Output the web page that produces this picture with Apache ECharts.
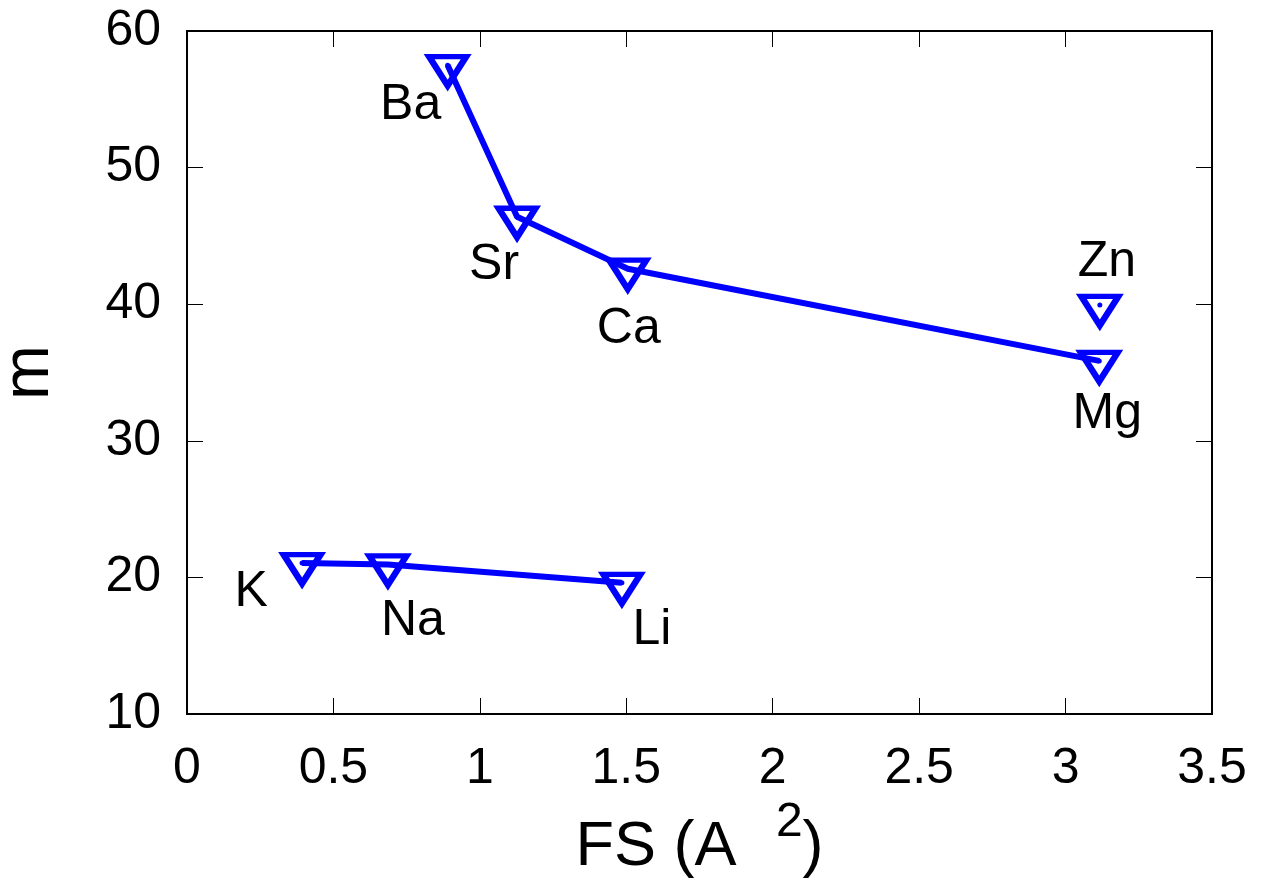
<!DOCTYPE html>
<html>
<head>
<meta charset="utf-8">
<script src="https://cdn.jsdelivr.net/npm/echarts@6/dist/echarts.min.js"></script>
<style>html,body{margin:0;padding:0;background:#fff}#c{width:1271px;height:895px}</style>
</head>
<body>
<div id="c"></div>
<script>
// Data
const names = ['Ba', 'Sr', 'Ca', 'Mg', 'Zn', 'K', 'Na', 'Li'];
const fs    = [0.89, 1.127, 1.505, 3.115, 3.117, 0.393, 0.686, 1.485];
const m     = [57.5, 46.4, 42.6, 35.85, 39.95, 21.05, 20.95, 19.6];
const group2Line = ['Ba', 'Sr', 'Ca', 'Mg'];
const group1Line = ['K', 'Na', 'Li'];
const xTicks = [0, 0.5, 1, 1.5, 2, 2.5, 3, 3.5];
const yTicks = [10, 20, 30, 40, 50, 60];

const labelOffsets = {
  Ba: [-37, 34], Sr: [-23, 42], Ca: [1, 55], Zn: [7, -49],
  Mg: [8, 47], K: [-51, 23], Na: [25, 51], Li: [30, 41]
};

const pt = n => { const i = names.indexOf(n); return [fs[i], m[i]]; };
const BLUE = '#0000ff';
const FONT = 'Liberation Sans';

const chart = echarts.init(document.getElementById('c'), null, {renderer: 'canvas'});

function axisBase(extra) {
  return Object.assign({
    type: 'value',
    axisLine: {show: true, onZero: false, lineStyle: {color: '#000', width: 2}},
    axisTick: {show: true, inside: true, length: 16, lineStyle: {color: '#000', width: 1}},
    splitLine: {show: false}
  }, extra);
}

chart.setOption({
  animation: false,
  backgroundColor: '#fff',
  grid: {left: 187, top: 31, right: 59, bottom: 181, show: true, borderColor: '#000', borderWidth: 2,
         containLabel: false, outerBoundsMode: 'none'},
  xAxis: [
    axisBase({
      position: 'bottom',
      min: xTicks[0], max: xTicks[xTicks.length - 1], interval: 0.5,
      axisLabel: {fontFamily: FONT, fontSize: 50, color: '#000', margin: 30},
      name: '{t|FS (A }{s|2}{t|)}',
      nameLocation: 'middle', nameGap: 84,
      nameTextStyle: {
        rich: {
          t: {fontFamily: FONT, fontSize: 63, color: '#000'},
          s: {fontFamily: FONT, fontSize: 48, color: '#000', padding: [0, 0, 50, 22]}
        }
      }
    }),
    axisBase({
      position: 'top', min: xTicks[0], max: xTicks[xTicks.length - 1], interval: 0.5,
      axisLabel: {show: false}
    })
  ],
  yAxis: [
    axisBase({
      position: 'left',
      min: yTicks[0], max: yTicks[yTicks.length - 1], interval: 10,
      axisLabel: {fontFamily: FONT, fontSize: 50, color: '#000', margin: 26},
      name: 'm', nameLocation: 'middle', nameGap: 124,
      nameTextStyle: {fontFamily: FONT, fontSize: 66, color: '#000'}
    }),
    axisBase({
      position: 'right', min: yTicks[0], max: yTicks[yTicks.length - 1], interval: 10,
      axisLabel: {show: false}
    })
  ],
  series: [
    {
      type: 'line', data: group2Line.map(pt), symbol: 'none',
      lineStyle: {color: BLUE, width: 6}, z: 2
    },
    {
      type: 'line', data: group1Line.map(pt), symbol: 'none',
      lineStyle: {color: BLUE, width: 6}, z: 2
    },
    {
      type: 'scatter', z: 3,
      symbol: 'path://M0,0 L20,0 L10,17 Z',
      symbolSize: [37, 29], symbolOffset: [0, 6],
      itemStyle: {color: 'rgba(0,0,0,0)', borderColor: BLUE, borderWidth: 6, opacity: 1},
      label: {color: '#000', opacity: 1},
      data: names.map((n, i) => ({
        value: [fs[i], m[i]],
        label: {
          show: true, formatter: n, position: 'inside',
          offset: labelOffsets[n],
          fontFamily: FONT, fontSize: 50, color: '#000', opacity: 1
        }
      }))
    },
    {
      type: 'scatter', z: 4, symbol: 'circle', symbolSize: 5,
      itemStyle: {color: BLUE, opacity: 1},
      data: names.map((n, i) => [fs[i], m[i]])
    }
  ]
});
</script>
</body>
</html>
